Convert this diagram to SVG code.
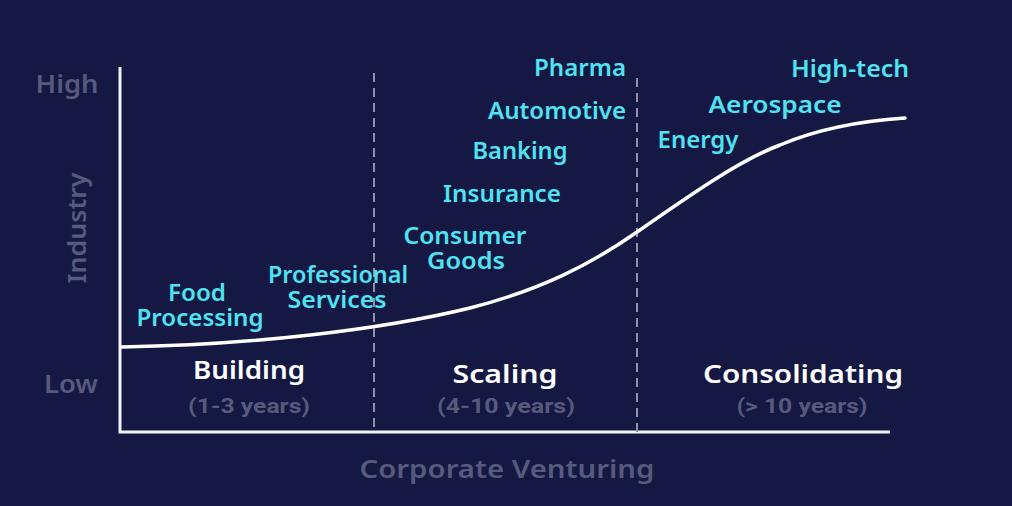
<svg xmlns="http://www.w3.org/2000/svg" width="1012" height="506" viewBox="0 0 1012 506">
  <style>
    .bg { fill: #141843; }
    .axis { stroke: #f2f2f7; stroke-width: 3; fill: none; }
    .dash { stroke: #8f92a8; stroke-width: 2; stroke-dasharray: 9 6; fill: none; }
    .curve { stroke: #ffffff; stroke-width: 3.5; fill: none; stroke-linecap: round; }
    .ind { font-family: "Noto Sans", "DejaVu Sans", sans-serif; font-weight: 600; font-size: 23px; fill: #4fe3f2; text-anchor: middle; }
    .ax { font-family: "Noto Sans", "DejaVu Sans", sans-serif; font-weight: 600; font-size: 26px; fill: #575a7d; text-anchor: middle; }
    .phase { font-family: "Noto Sans", "DejaVu Sans", sans-serif; font-weight: 600; font-size: 26px; fill: #ffffff; text-anchor: middle; }
    .yrs { font-family: Roboto, "Liberation Sans", sans-serif; font-weight: 700; font-size: 20px; fill: #575a7d; text-anchor: middle; }
  </style>
  <rect class="bg" x="0" y="0" width="1012" height="506"/>

  <g id="axes">
    <path class="axis" d="M120,67 V432 H890"/>
    <text class="ax" x="67" y="93" textLength="63" lengthAdjust="spacingAndGlyphs">High</text>
    <text class="ax" x="71" y="393" textLength="54" lengthAdjust="spacingAndGlyphs">Low</text>
    <text class="ax" transform="translate(86,228) rotate(-90)" x="0" y="0" textLength="111" lengthAdjust="spacingAndGlyphs">Industry</text>
    <text class="ax" x="507" y="478" textLength="295" lengthAdjust="spacingAndGlyphs">Corporate Venturing</text>
  </g>

  <g id="dividers">
    <line class="dash" x1="374" y1="73" x2="374" y2="432"/>
    <line class="dash" x1="637" y1="78" x2="637" y2="432"/>
  </g>

  <g id="connectors">
    <path class="curve" d="M122,347 C250,345 380,330 470,308 C540,290 590,265 637,232 C690,195 740,160 780,145 C820,128 860,121 905,118"/>
  </g>

  <g id="phase-building">
    <text class="phase" x="249" y="379" textLength="112" lengthAdjust="spacingAndGlyphs">Building</text>
    <text class="yrs" x="249" y="413" textLength="122" lengthAdjust="spacingAndGlyphs">(1-3 years)</text>
  </g>
  <g id="phase-scaling">
    <text class="phase" x="505" y="383" textLength="105" lengthAdjust="spacingAndGlyphs">Scaling</text>
    <text class="yrs" x="506" y="413" textLength="138" lengthAdjust="spacingAndGlyphs">(4-10 years)</text>
  </g>
  <g id="phase-consolidating">
    <text class="phase" x="803" y="383" textLength="200" lengthAdjust="spacingAndGlyphs">Consolidating</text>
    <text class="yrs" x="802" y="413" textLength="131" lengthAdjust="spacingAndGlyphs">(&gt; 10 years)</text>
  </g>

  <g id="food-processing">
    <text class="ind"><tspan x="197" y="301" textLength="58" lengthAdjust="spacingAndGlyphs">Food</tspan><tspan x="200" y="326" textLength="127" lengthAdjust="spacingAndGlyphs">Processing</tspan></text>
  </g>
  <g id="professional-services">
    <text class="ind"><tspan x="338" y="283" textLength="140" lengthAdjust="spacingAndGlyphs">Professional</tspan><tspan x="337" y="308" textLength="99" lengthAdjust="spacingAndGlyphs">Services</tspan></text>
  </g>
  <g id="consumer-goods">
    <text class="ind"><tspan x="465" y="244" textLength="123" lengthAdjust="spacingAndGlyphs">Consumer</tspan><tspan x="466" y="269" textLength="78" lengthAdjust="spacingAndGlyphs">Goods</tspan></text>
  </g>
  <g id="insurance">
    <text class="ind" x="502" y="202" textLength="118" lengthAdjust="spacingAndGlyphs">Insurance</text>
  </g>
  <g id="banking">
    <text class="ind" x="520" y="159" textLength="95" lengthAdjust="spacingAndGlyphs">Banking</text>
  </g>
  <g id="automotive">
    <text class="ind" x="557" y="119" textLength="138" lengthAdjust="spacingAndGlyphs">Automotive</text>
  </g>
  <g id="pharma">
    <text class="ind" x="580" y="76" textLength="92" lengthAdjust="spacingAndGlyphs">Pharma</text>
  </g>
  <g id="energy">
    <text class="ind" x="698" y="148" textLength="81" lengthAdjust="spacingAndGlyphs">Energy</text>
  </g>
  <g id="aerospace">
    <text class="ind" x="775" y="113" textLength="133" lengthAdjust="spacingAndGlyphs">Aerospace</text>
  </g>
  <g id="high-tech">
    <text class="ind" x="850" y="77" textLength="118" lengthAdjust="spacingAndGlyphs">High-tech</text>
  </g>
</svg>
